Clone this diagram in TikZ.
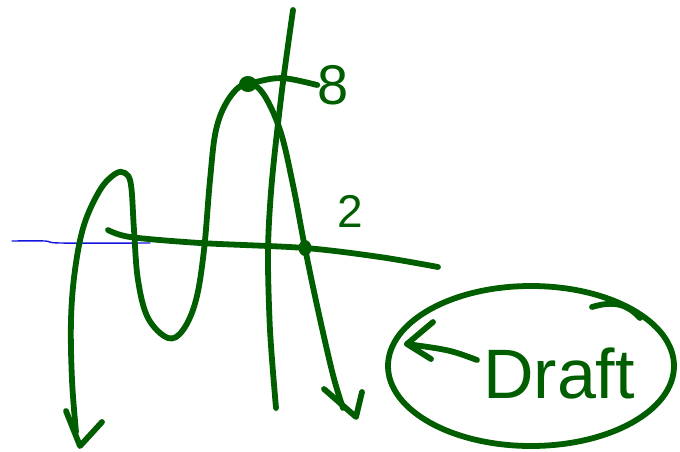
\documentclass[tikz,border=0pt]{standalone}
\usepackage{fontspec}
\setmainfont{Liberation Sans}
\definecolor{ink}{RGB}{0,94,0}
\definecolor{pen}{RGB}{20,20,225}
\begin{document}
\begin{tikzpicture}[x=1pt, y=-1pt, line cap=round, line join=round,
    stroke/.style={draw=ink, line width=5.8pt},
    thin/.style={draw=pen, line width=1.4pt},
    lbl/.style={text=ink, inner sep=0pt}]
  \useasboundingbox (0,0) rectangle (680,452);
  % axes
  \draw[thin] plot[smooth] coordinates {(12,241) (45,241) (60,243) (150,243)};
  \draw[stroke] plot[smooth] coordinates {(108,230) (130,237) (200,243) (305,248) (380,257) (438,267)};
  \draw[stroke] plot[smooth] coordinates {(293,10) (282,90) (272,180) (268,250) (270,330) (276,408)};
  % graph
  \draw[stroke] plot[smooth, tension=0.6] coordinates {(76,432) (72,380) (71,320) (75,270) (84,225)
    (100,190) (115,174) (125,173) (131,185) (134,230) (138,280) (148,318) (168,338) (183,330)
    (196,300) (204,250) (210,180) (216,130) (228,100) (245,84) (262,92) (280,130) (293,185)
    (305,248) (318,310) (333,375) (343,408)};
  \draw[stroke] (66,411) -- (80,446) -- (102,422);
  \draw[stroke] (324,389) -- (356,417) -- (362,392);
  % points
  \coordinate (top) at (248,84);
  \coordinate (root) at (305,248);
  \fill[ink] (top) ellipse [x radius=9, y radius=8];
  \fill[ink] (root) ellipse [x radius=6.5, y radius=8];
  \node[lbl, font=\fontsize{56}{56}\selectfont] (eight) at (333,85) {8};
  \node[lbl, font=\fontsize{46}{46}\selectfont] (two) at (350,211) {2};
  \draw[stroke] (top) .. controls (280,76) .. (eight.west);
  % note
  \draw[stroke] (531,366) ellipse [x radius=143, y radius=80];
  \draw[stroke] (592,307) .. controls (615,300) and (628,305) .. (640,318);
  \node[lbl, anchor=base west, font=\fontsize{70}{70}\selectfont] (draft) at (483,398) {Draft};
  \coordinate (tip) at (407,344);
  \draw[stroke] (477,360) .. controls (450,350) .. (tip);
  \draw[stroke] (433,322) -- (tip) -- (431,359);
\end{tikzpicture}
\end{document}
